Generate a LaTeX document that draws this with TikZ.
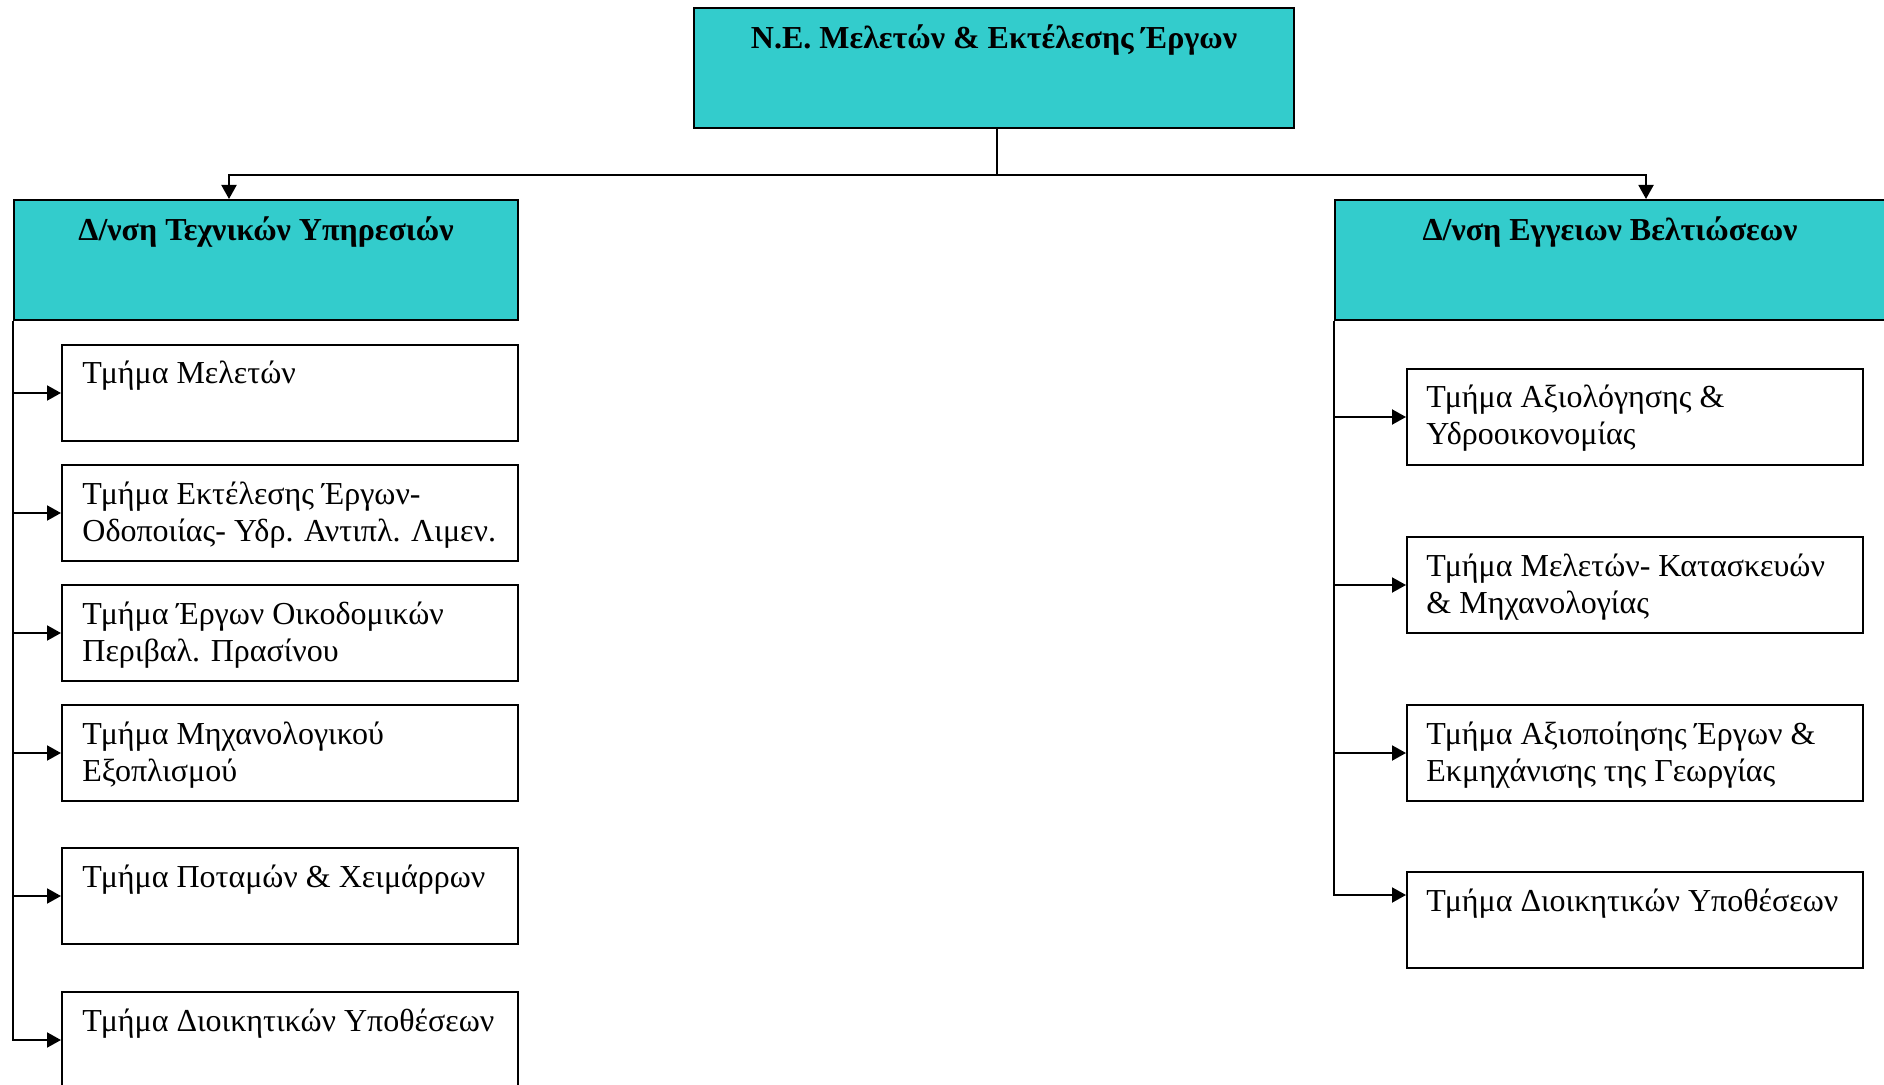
\documentclass[tikz,border=0pt]{standalone}
\usepackage{fontspec}
\setmainfont{Liberation Serif}
\usetikzlibrary{arrows.meta,positioning}

\definecolor{headfill}{HTML}{33CCCC}

\tikzset{
    unit/.style={draw=black, line width=1pt, inner sep=0pt, anchor=north west},
    head/.style={unit, fill=headfill, minimum height=60pt},
    dept/.style={unit, fill=white, minimum width=228pt, minimum height=48pt},
    headtxt/.style={inner sep=0pt, anchor=base, font=\fontsize{16}{18.5}\selectfont\bfseries},
    depttxt/.style={inner sep=0pt, anchor=base west, font=\fontsize{16}{18.5}\selectfont},
    link/.style={line width=1pt},
    feed/.style={link, -{Triangle[length=7pt,width=7.5pt]}}
}

\begin{document}
\begin{tikzpicture}[x=0.5pt, y=-0.5pt]
        % --- 1. Frame ---
        \useasboundingbox (0,0) rectangle (1884,1085);
        \clip (0,0) rectangle (1884,1085);
        % --- 2. Top unit ---
        \node[head, minimum width=300pt] (top) at (693,7) {};
        \node[headtxt] (topT) at ([yshift=-21pt]top.north) {Ν.Ε. Μελετών \& Εκτέλεσης Έργων};
        \coordinate (bus) at (997,175);
        \draw[link] (top.south -| bus) -- (bus);
        % --- 3. Directorates ---
        \node[head, minimum width=252pt] (lhead) at (13,199) {};
        \node[headtxt] (lheadT) at ([yshift=-21pt]lhead.north) {Δ/νση Τεχνικών Υπηρεσιών};
        \node[head, minimum width=283pt] (rhead) at (1334,199) {};
        \node[headtxt] (rheadT) at ([xshift=-4pt,yshift=-21pt]rhead.north) {Δ/νση Εγγειων Βελτιώσεων};
        \draw[feed] (bus) -| ([xshift=-18.5pt]lhead.north);
        \draw[feed] (bus) -| ([xshift=14pt]rhead.north);
        % --- 4. Left departments ---
        \foreach \n/\y/\lbl in {
            l1/344/{Τμήμα Μελετών},
            l2/464/{Τμήμα Εκτέλεσης Έργων-\\Οδοποιίας- Υδρ. Αντιπλ. Λιμεν.},
            l3/584/{Τμήμα Έργων Οικοδομικών\\Περιβαλ. Πρασίνου},
            l4/704/{Τμήμα Μηχανολογικού\\Εξοπλισμού},
            l5/847/{Τμήμα Ποταμών \& Χειμάρρων},
            l6/991/{Τμήμα Διοικητικών Υποθέσεων}} {
            \node[dept] (\n) at (61,\y) {};
            \node[depttxt] (t\n) at ([xshift=10.5pt,yshift=-20pt]\n.north west)
                {\begin{tabular}[t]{@{}l@{}}\lbl\end{tabular}};
        }
        \draw[feed] (lhead.south west) |- (l6.west);
        \foreach \n in {l1,l2,l3,l4,l5}
            \draw[feed] (lhead.south west |- \n.west) -- (\n.west);
        % --- 5. Right departments ---
        \foreach \n/\y/\lbl in {
            r1/368/{Τμήμα Αξιολόγησης \&\\Υδροοικονομίας},
            r2/536/{Τμήμα Μελετών- Κατασκευών\\\& Μηχανολογίας},
            r3/704/{Τμήμα Αξιοποίησης Έργων \&\\Εκμηχάνισης της Γεωργίας},
            r4/871/{Τμήμα Διοικητικών Υποθέσεων}} {
            \node[dept] (\n) at (1406,\y) {};
            \node[depttxt] (t\n) at ([xshift=10pt,yshift=-20pt]\n.north west)
                {\begin{tabular}[t]{@{}l@{}}\lbl\end{tabular}};
        }
        % last feed meets r4 high up, as drawn in the chart
        \draw[feed] (rhead.south west) |- ([yshift=-12pt]r4.north west);
        \foreach \n in {r1,r2,r3}
            \draw[feed] (rhead.south west |- \n.west) -- (\n.west);
\end{tikzpicture}
\end{document}
